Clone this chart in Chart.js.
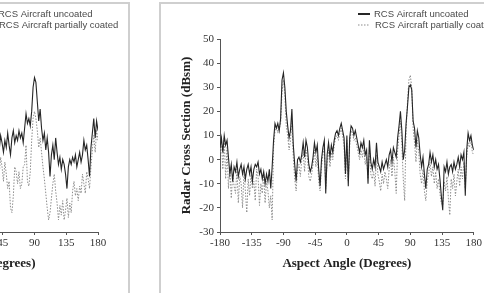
<!DOCTYPE html>
<html><head><meta charset="utf-8">
<script src="https://cdn.jsdelivr.net/npm/chart.js@4.4.0/dist/chart.umd.min.js"></script>
<style>
html,body{margin:0;padding:0;background:#fff;overflow:hidden;width:484px;height:293px;}
#wrap{position:relative;width:484px;height:293px;overflow:hidden;background:#fff;}
canvas{position:absolute;top:0;}
#cL{left:-376px;}
#cR{left:0;}
.frame{position:absolute;border:0 solid #cfcfcf;}
</style></head>
<body><div id="wrap">
<div class="frame" style="left:-10px;top:2px;width:138px;height:300px;border-top-width:2px;border-right-width:2px"></div>
<div class="frame" style="left:159px;top:2px;width:340px;height:300px;border-top-width:2px;border-left-width:2px"></div>
<canvas id="cL" width="504" height="293"></canvas>
<canvas id="cR" width="484" height="293"></canvas>
</div>
<script>
// ---- data ----
const SERIES_NAMES = ['RCS Aircraft uncoated', 'RCS Aircraft partially coated'];
const X_TITLE = 'Aspect Angle (Degrees)';
const Y_TITLE = 'Radar Cross Section (dBsm)';
const X_TICKS = [-180, -135, -90, -45, 0, 45, 90, 135, 180];
const Y_TICKS = [-30, -20, -10, 0, 10, 20, 30, 40, 50];
const ANGLE_STEP = 2;

// right panel: angles -180 .. 180, step 2
const RIGHT_ANGLE_START = -180;
const rightUncoated = [
  5, 9, 3, 10, 6, 8, 1, -6, -2, -9,
  -3, -5, -1, -7, -4, -2, -6, -3, -8, -4,
  -2, -6, -3, -9, -4, -2, -3, -1, -6, -4,
  -8, -5, -10, -6, -9, -4, -12, -3, 8, 15,
  13, 15, 12, 17, 33, 36, 30, 20, 14, 9,
  12, 21, 6, -2, -9, 0, 1, -1, 2, 7,
  1, 8, 5, -2, -5, -3, 1, 7, 3, 6,
  -4, -11, 0, 5, 8, -14, 2, 7, 1, 6,
  3, 8, 11, 12, 10, 13, 15, 12, 9, -6,
  10, -11, 9, 14, 13, 10, 12, 9, 6, 3,
  7, 5, 8, 2, 4, -10, 8, -1, -4, 0,
  -3, 7, -1, -3, -5, -1, -4, -2, 0, -3,
  2, 4, -1, 5, 3, 1, 9, 14, 20, 12,
  0, 4, 15, 22, 30, 31, 29, 16, 13, 5,
  12, 9, 2, -3, 1, -6, -12, -4, -2, 3,
  -1, 2, -3, 0, -4, -2, -8, -15, -21, -3,
  -5, -1, -6, -3, -2, -5, -1, -4, -2, 1,
  -3, 2, 0, 3, -15, 4, 11, 8, 10, 6,
  4
];
const rightCoated = [
  3, 8, -4, 9, -8, 5, -12, -3, -16, -6,
  -11, -14, -4, -18, -7, -10, -20, -5, -13, -22,
  -8, -15, -6, -12, -9, -17, -4, -7, -19, -10,
  -14, -6, -18, -9, -13, -20, -15, -25, 5, 12,
  14, 11, 13, 15, 28, 33, 27, 14, 10, 4,
  8, 16, 1, -8, -13, -4, -2, -7, 0, 3,
  -5, 4, 1, -7, -9, -6, -2, 4, -3, 2,
  -9, -13, -3, 2, 5, -12, -1, 4, -3, 3,
  0, 6, 9, 10, 8, 11, 13, 10, 6, -8,
  8, -9, 6, 12, 11, 8, 9, 6, 3, 0,
  4, 1, 5, -2, 1, -8, 5, -6, -8, -5,
  -11, 2, -6, -9, -13, -6, -10, -5, -8, -12,
  -4, 0, -7, 1, -5, -14, 4, 10, 16, 6,
  -8, -17, 12, 24, 33, 35, 30, 13, 7, -1,
  8, 3, -6, -10, -4, -13, -17, -9, -6, -1,
  -7, -3, -10, -5, -12, -8, -14, -18, -19, -9,
  -13, -7, -16, -23, -8, -12, -6, -15, -9, -4,
  -11, -3, -8, -1, -12, 1, 7, 5, 9, 3,
  2
];

// left panel (only its visible part): angles 36 .. 180, step 2
const LEFT_ANGLE_START = 36;
const leftUncoated = [
  6, 9, 4, 10, 7, 3, 8, 5, 11, 6,
  2, 9, 12, 7, 10, 8, 12, 9, 11, 7,
  13, 19, 15, 17, 14, 20, 30, 34, 32, 24,
  16, 21, 13, 8, 11, 4, 9, 3, -7, 2,
  6, 0, 9, 3, -2, 1, -4, 0, -2, -6,
  -12, -3, 0, -2, 1, -1, 2, -3, 0, 3,
  -1, 2, 8, 4, 6, 0, -7, 5, 11, 17,
  9, 16, 12
];
const leftCoated = [
  -2, 3, -6, 1, -3, -9, -1, -6, -12, -9,
  -20, -22, -15, -3, -5, -10, -5, -12, -10, -3,
  -2, 6, -9, -11, -5, 8, 17, 20, 17, 12,
  5, 9, 3, -3, -8, -14, -20, -25, -22, -16,
  -10, -6, -13, -18, -25, -19, -23, -17, -25, -21,
  -16, -24, -18, -22, -13, -9, -15, -12, -17, -11,
  -14, -6, -10, -14, -5, -8, -12, -3, 4, 10,
  3, 12, 8
];

// ---- drawing ----
function toPoints(start, values) {
  return values.map((v, i) => ({ x: start + i * ANGLE_STEP, y: v }));
}

const lineLegend = {
  id: 'lineLegend',
  afterDraw(chart) {
    const o = chart.options.plugins.lineLegend;
    const ctx = chart.ctx;
    chart.data.datasets.forEach((ds, i) => {
      const y = o.y + i * o.rowGap;
      ctx.save();
      ctx.strokeStyle = ds.borderColor;
      ctx.lineWidth = i === 0 ? 2 : 1.2;
      ctx.setLineDash(ds.borderDash || []);
      ctx.beginPath();
      ctx.moveTo(o.x, y);
      ctx.lineTo(o.x + o.len, y);
      ctx.stroke();
      ctx.setLineDash([]);
      ctx.fillStyle = o.color;
      ctx.font = o.font;
      ctx.textBaseline = 'middle';
      ctx.fillText(ds.label, o.x + o.len + o.gap + (i === 0 ? 0 : 1), y);
      ctx.restore();
    });
  }
};

function makeChart(id, start, uncoated, coated, padRight) {
  const tickFont = { family: "'Liberation Serif', 'DejaVu Serif', serif", size: 11 };
  const titleFont = { family: "'Liberation Serif', 'DejaVu Serif', serif", size: 13, weight: 'bold', lineHeight: 1.2 };
  return new Chart(document.getElementById(id), {
    type: 'line',
    data: {
      datasets: [
        { label: SERIES_NAMES[0], data: toPoints(start, uncoated), borderColor: '#262626', borderWidth: 1.1, pointRadius: 0, tension: 0, fill: false },
        { label: SERIES_NAMES[1], data: toPoints(start, coated), borderColor: '#8c8c8c', borderWidth: 1, borderDash: [1.5, 1.5], pointRadius: 0, tension: 0, fill: false }
      ]
    },
    options: {
      responsive: false,
      animation: false,
      devicePixelRatio: 1,
      layout: { padding: { left: 179, right: padRight, top: 39, bottom: 22 } },
      plugins: {
        legend: { display: false },
        tooltip: { enabled: false },
        lineLegend: { x: 358, y: 14, rowGap: 11, len: 12, gap: 4, color: '#4a4a4a', font: "9.5px 'Liberation Sans', Arial, sans-serif" }
      },
      scales: {
        x: {
          type: 'linear', min: -180, max: 180,
          afterBuildTicks: s => { s.ticks = X_TICKS.map(v => ({ value: v })); },
          afterFit: s => { s.height = 39; },
          grid: { display: true, drawOnChartArea: false, drawTicks: true, tickLength: 3, color: '#555' },
          border: { display: true, color: '#555', width: 1 },
          ticks: { font: tickFont, color: '#333', padding: 2, autoSkip: false, maxRotation: 0 },
          title: { display: true, text: X_TITLE, font: titleFont, color: '#222', padding: 0 }
        },
        y: {
          type: 'linear', min: -30, max: 50,
          afterBuildTicks: s => { s.ticks = Y_TICKS.map(v => ({ value: v })); },
          afterFit: s => { s.width = 41; },
          grid: { display: true, drawOnChartArea: false, drawTicks: true, tickLength: 3, color: '#555' },
          border: { display: true, color: '#555', width: 1 },
          ticks: { font: tickFont, color: '#333', padding: 3, autoSkip: false },
          title: { display: true, text: Y_TITLE, font: titleFont, color: '#222', padding: 0 }
        }
      }
    },
    plugins: [lineLegend]
  });
}

makeChart('cL', LEFT_ANGLE_START, leftUncoated, leftCoated, 30);
makeChart('cR', RIGHT_ANGLE_START, rightUncoated, rightCoated, 10);
</script>
</body></html>
